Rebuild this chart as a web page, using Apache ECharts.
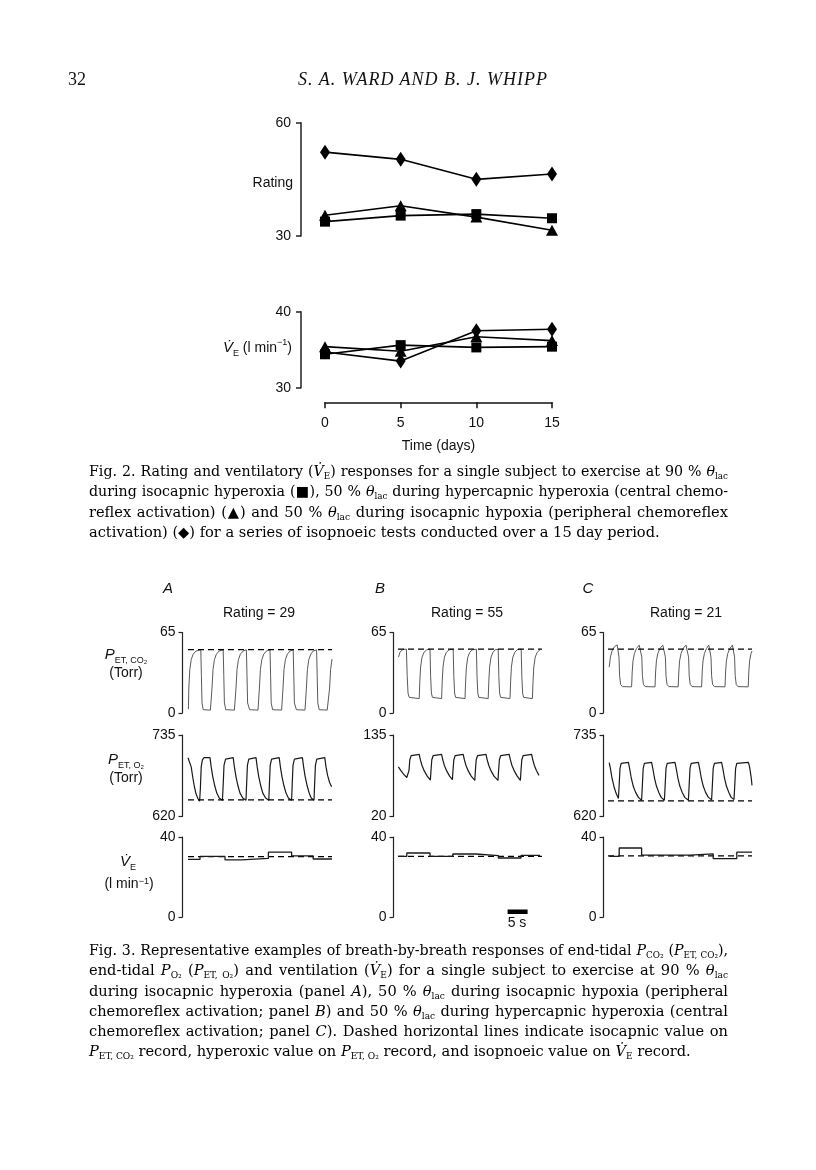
<!DOCTYPE html>
<html><head><meta charset="utf-8">
<script src="https://cdn.jsdelivr.net/npm/echarts@6/dist/echarts.min.js"></script>
<style>
html,body{margin:0;padding:0;background:#fff;}
#chart{position:absolute;left:0;top:0;width:816px;height:1170px;}
.hdr{position:absolute;top:69px;line-height:20px;font-family:"Liberation Serif","Times New Roman",serif;font-size:18px;color:#111;white-space:nowrap;}
.cap{position:absolute;left:89px;width:639px;font-family:"DejaVu Serif",serif;font-size:14.6px;line-height:20.3px;color:#000;}
.cap div{text-align:justify;text-align-last:justify;white-space:normal;}
.cap div.last{text-align-last:left;}
.cap sub{font-size:0.62em;vertical-align:-0.3em;line-height:0;}
</style></head>
<body>
<div id="chart"></div>
<div class="hdr" style="left:68px;">32</div>
<div class="hdr" style="left:298px;font-style:italic;letter-spacing:1px;">S. A. WARD AND B. J. WHIPP</div>
<div class="cap" style="top:461px;">
<div>Fig. 2. Rating and ventilatory (<i>V̇</i><sub>E</sub>) responses for a single subject to exercise at 90 % <i>θ</i><sub>lac</sub></div>
<div>during isocapnic hyperoxia (■), 50 % <i>θ</i><sub>lac</sub> during hypercapnic hyperoxia (central chemo-</div>
<div>reflex activation) (▲) and 50 % <i>θ</i><sub>lac</sub> during isocapnic hypoxia (peripheral chemoreflex</div>
<div class="last">activation) (◆) for a series of isopnoeic tests conducted over a 15 day period.</div>
</div>
<div class="cap" style="top:940px;">
<div>Fig. 3. Representative examples of breath-by-breath responses of end-tidal <i>P</i><sub>CO₂</sub> (<i>P</i><sub>ET, CO₂</sub>),</div>
<div>end-tidal <i>P</i><sub>O₂</sub> (<i>P</i><sub>ET, O₂</sub>) and ventilation (<i>V̇</i><sub>E</sub>) for a single subject to exercise at 90 % <i>θ</i><sub>lac</sub></div>
<div>during isocapnic hyperoxia (panel <i>A</i>), 50 % <i>θ</i><sub>lac</sub> during isocapnic hypoxia (peripheral</div>
<div>chemoreflex activation; panel <i>B</i>) and 50 % <i>θ</i><sub>lac</sub> during hypercapnic hyperoxia (central</div>
<div>chemoreflex activation; panel <i>C</i>). Dashed horizontal lines indicate isocapnic value on</div>
<div class="last"><i>P</i><sub>ET, CO₂</sub> record, hyperoxic value on <i>P</i><sub>ET, O₂</sub> record, and isopnoeic value on <i>V̇</i><sub>E</sub> record.</div>
</div>
<script>
// ---------------- Fig. 2 data ----------------
const days = [0, 5, 10, 15];
const ratingSquare   = [33.8, 35.4, 35.8, 34.7];
const ratingTriangle = [35.5, 38.0, 35.0, 31.5];
const ratingDiamond  = [52.2, 50.3, 45.0, 46.4];
const veSquare   = [34.4, 35.6, 35.3, 35.4];
const veTriangle = [35.4, 34.8, 36.7, 36.2];
const veDiamond  = [34.7, 33.5, 37.5, 37.7];
const ratingTicks = [30, 60];
const ve2Ticks = [30, 40];
const dayTicks = [0, 5, 10, 15];

// ---------------- Fig. 3 data (time in s) ----------------
const panelNames = ['A', 'B', 'C'];
const panelRatings = ['Rating = 29', 'Rating = 55', 'Rating = 21'];
const co2Ticks = [0, 65];
const o2Ticks = [[620, 735], [20, 135], [620, 735]];
const ve3Ticks = [0, 40];
const timeRange = [0, 36];

const co2A = [[0.1,3],[0.2,20],[0.45,35],[0.8,43],[1.3,47.5],[2.0,50],[3.2,51],[3.35,30],[3.5,8],[3.8,2.5],[5.6,2.2],
 [5.9,3],[6.0,20],[6.25,35],[6.6,43],[7.1,47.5],[7.8,50],[8.8,51],[8.95,30],[9.1,8],[9.45,2.5],[11.6,2.2],
 [11.9,3],[12.0,20],[12.25,35],[12.6,43],[13.1,47.5],[13.8,50],[14.6,51],[14.75,30],[14.9,8],[15.4,2.5],[17.5,2.2],
 [17.75,3],[17.85,20],[18.1,35],[18.45,43],[18.95,47.5],[19.6,50],[20.5,51],[20.65,30],[20.8,8],[21.15,2.5],[23.4,2.2],
 [23.65,3],[23.75,20],[24.0,35],[24.35,43],[24.85,47.5],[25.5,50],[26.3,51],[26.45,30],[26.6,8],[27.1,2.5],[29.25,2.2],
 [29.5,3],[29.6,20],[29.85,35],[30.2,43],[30.7,47.5],[31.3,50],[32.15,51],[32.3,30],[32.45,8],[32.8,2.5],[34.8,2.2],
 [35.3,3],[35.4,20],[35.65,35],[36.0,43.5]];
const o2A = [[0,703],[0.5,703],[0.8,690],[1.2,675],[1.6,662],[2.0,652],[2.5,645],[2.9,641.5],[3.1,660],[3.3,690],[3.6,700],[4.0,703],
 [5.5,703],[5.8,690],[6.2,676],[6.7,663],[7.2,653],[7.8,646],[8.6,643],[8.8,665],[9.0,692],[9.4,701],[9.8,703],
 [11.3,703],[11.6,690],[12.0,676],[12.5,663],[13.0,653],[13.7,646],[14.5,643],[14.65,665],[14.85,692],[15.2,701],[15.5,703],
 [17.0,703],[17.3,690],[17.7,676],[18.2,663],[18.7,653],[19.4,646],[20.2,643],[20.35,665],[20.55,692],[20.9,701],[21.3,703],
 [22.8,703],[23.1,690],[23.5,676],[24.0,663],[24.5,653],[25.1,646],[25.9,643],[26.05,665],[26.25,692],[26.6,701],[27.0,703],
 [28.6,703],[28.9,690],[29.3,676],[29.8,663],[30.3,653],[30.8,646],[31.5,643],[31.65,665],[31.85,692],[32.2,701],[32.6,703],
 [34.2,703],[34.5,690],[34.9,678],[35.4,668],[35.9,662]];
const veA = [[0,28.8],[3.0,30.3],[9.25,28.6],[13.4,29.3],[20.1,32.4],[25.9,30.6],[31.3,29.0],[36,29.0]];

const co2B = [[0.1,45],[0.5,49],[1.2,51.3],[2.1,51.5],[2.3,30],[2.5,16],[2.8,12.5],[3.1,11.6],[5.3,11.5],
 [5.45,25],[5.65,37],[6.0,45],[6.5,49],[7.2,51],[8.0,51.5],[8.15,30],[8.35,16],[8.6,12.5],[8.9,11.6],[10.9,11.5],
 [11.05,25],[11.25,37],[11.6,45],[12.1,49],[12.8,51],[13.8,51.5],[13.95,30],[14.15,16],[14.4,12.5],[14.7,11.6],[16.75,11.5],
 [16.9,25],[17.1,37],[17.45,45],[17.95,49],[18.6,51],[19.6,51.5],[19.75,30],[19.95,16],[20.2,12.5],[20.5,11.6],[22.55,11.5],
 [22.7,25],[22.9,37],[23.25,45],[23.75,49],[24.3,51],[25.05,51.5],[25.2,30],[25.4,16],[25.65,12.5],[25.95,11.6],[28.0,11.5],
 [28.15,25],[28.35,37],[28.7,45],[29.2,49],[29.8,51],[30.8,51.5],[30.95,30],[31.15,16],[31.4,12.5],[31.7,11.6],[33.6,11.5],
 [33.75,25],[33.95,37],[34.3,45],[34.8,49],[35.5,51]];
const o2B = [[0.1,90],[0.8,84],[1.5,79],[2.2,75],[2.6,72.5],[2.75,85],[2.95,100],[3.3,106],[3.8,107.6],
 [5.3,107.6],[5.6,100],[6.0,92],[6.6,84],[7.3,77],[8.1,71.5],[8.25,85],[8.45,100],[8.8,106],[9.25,107.6],
 [10.9,107.6],[11.2,100],[11.6,92],[12.2,84],[12.9,77],[13.6,72],[13.75,85],[13.95,100],[14.3,106],[14.7,107.6],
 [16.3,107.6],[16.6,100],[17.0,92],[17.6,84],[18.3,77],[19.2,71],[19.35,85],[19.55,100],[19.9,106],[20.3,107.6],
 [22.0,107.6],[22.3,100],[22.7,92],[23.3,84],[24.0,77],[25.0,71],[25.15,85],[25.35,100],[25.7,106],[26.2,107.6],
 [27.8,107.6],[28.1,100],[28.5,92],[29.1,84],[29.8,77],[30.6,71],[30.75,85],[30.95,100],[31.3,106],[31.75,107.6],
 [33.4,107.6],[33.7,100],[34.1,92],[34.6,85],[35.25,78]];
const veB = [[0.1,30.3],[2.2,32.0],[8.0,30.3],[13.7,31.5],[19.5,30.7],[25.1,29.5],[30.75,30.8],[35.5,30.8]];

const co2C = [[0.3,37],[0.6,45],[1.0,50],[1.6,53.5],[2.3,55],[2.6,55.5],[2.75,45],[2.9,30],[3.15,23],[3.6,21.2],[5.9,21],
 [6.05,33],[6.25,42],[6.6,48],[7.1,52],[7.8,54.8],[8.3,55.5],[8.45,45],[8.6,30],[8.85,23],[9.3,21.2],[11.75,21],
 [11.9,33],[12.1,42],[12.45,48],[12.95,52],[13.7,54.8],[14.2,55.5],[14.35,45],[14.5,30],[14.75,23],[15.2,21.2],[17.55,21],
 [17.7,33],[17.9,42],[18.25,48],[18.75,52],[19.5,54.8],[20.0,55.5],[20.15,45],[20.3,30],[20.55,23],[21.0,21.2],[23.4,21],
 [23.55,33],[23.75,42],[24.1,48],[24.6,52],[25.2,54.8],[25.6,55.5],[25.75,45],[25.9,30],[26.15,23],[26.6,21.2],[29.25,21],
 [29.4,33],[29.6,42],[29.95,48],[30.45,52],[31.1,54.8],[31.5,55.5],[31.65,45],[31.8,30],[32.05,23],[32.5,21.2],[35.05,21],
 [35.2,33],[35.4,42],[35.75,48],[36.0,50]];
const o2C = [[0.3,696],[0.6,688],[1.0,674],[1.5,662],[2.0,653],[2.6,645.5],[2.8,665],[3.0,688],[3.3,695],[3.5,696.3],
 [5.1,696.3],[5.4,688],[5.8,675],[6.3,663],[6.9,654],[7.6,647],[8.4,643],[8.6,665],[8.8,688],[9.1,695],[9.3,696.3],
 [10.9,696.3],[11.2,688],[11.6,675],[12.1,663],[12.7,654],[13.3,647],[14.1,643],[14.3,665],[14.5,688],[14.8,695],[15.0,696.3],
 [16.75,696.3],[17.05,688],[17.45,675],[17.95,663],[18.55,654],[19.2,647],[20.1,643],[20.3,665],[20.5,688],[20.8,695],[21.0,696.3],
 [22.6,696.3],[22.9,688],[23.3,675],[23.8,663],[24.4,654],[25.1,647],[25.9,643.5],[26.1,665],[26.3,688],[26.6,695],[26.8,696.3],
 [28.4,696.3],[28.7,688],[29.1,675],[29.6,663],[30.2,654],[30.8,647],[31.5,644],[31.7,665],[31.9,688],[32.2,695],[32.4,696.3],
 [35.1,696.3],[35.4,690],[35.8,675],[36.0,664]];
const veC = [[0.3,30.3],[2.8,34.5],[8.4,30.9],[20.5,31.6],[26.3,29.2],[32.2,32.4],[36,32.4]];

const dashCO2 = [51.2, 51.5, 51.5];
const dashO2 = [643.5, null, 642];
const dashVE = [30.2, 30.3, 30.6];
const scaleBarTimes = [27.4, 32.4];   // 5 s bar in panel B
const scaleBarLevel = 2.6;

// ---------------- layout ----------------
const SANS = '"Liberation Sans", Arial, Helvetica, sans-serif';
const INK = '#111';
const co2Data = [co2A, co2B, co2C];
const o2Data = [o2A, o2B, o2C];
const veData = [veA, veB, veC];
const panelLeft = [188, 398, 608];
const panelAxisX = [182.5, 393.5, 603.5];
const panelW = 144;
const rowTop = [632.5, 735, 837];
const rowH = [80.3, 81.5, 80];

const grids = [], xAxes = [], yAxes = [], series = [];

function yAx(gi, min, max, ticks, offset, lw, tickLen, margin) {
  return { gridIndex: gi, type: 'value', min, max, position: 'left', offset,
    axisLine: { show: true, onZero: false, lineStyle: { color: '#222', width: lw } },
    axisTick: { show: true, length: tickLen, customValues: ticks, lineStyle: { color: '#222', width: lw } },
    axisLabel: { customValues: ticks, fontFamily: SANS, fontSize: 14, color: INK, margin },
    splitLine: { show: false } };
}
function hiddenX(gi, min, max) {
  return { gridIndex: gi, type: 'value', min, max, show: false };
}

// Fig 2 grids
grids.push({ left: 325, top: 122.7, width: 227, height: 113.3, containLabel: false, outerBoundsMode: 'none' });
grids.push({ left: 325, top: 311.7, width: 227, height: 76, containLabel: false, outerBoundsMode: 'none' });
xAxes.push(hiddenX(0, 0, 15));
xAxes.push({ gridIndex: 1, type: 'value', min: 0, max: 15, interval: 5, position: 'bottom', offset: 14.6,
  axisLine: { show: true, onZero: false, lineStyle: { color: '#111', width: 1.5 } },
  axisTick: { show: true, length: 6, customValues: dayTicks, lineStyle: { color: '#111', width: 1.5 } },
  axisLabel: { customValues: dayTicks, fontFamily: SANS, fontSize: 14, color: INK, margin: 14 },
  splitLine: { show: false },
  name: 'Time (days)', nameLocation: 'middle', nameGap: 37,
  nameTextStyle: { fontFamily: SANS, fontSize: 14, color: INK } });
yAxes.push(yAx(0, 30, 60, ratingTicks, 24, 1.5, 5, 10));
yAxes.push(yAx(1, 30, 40, ve2Ticks, 24, 1.5, 5, 10));

function fig2Series(gi, vals, symbol, size) {
  return { type: 'line', xAxisIndex: gi, yAxisIndex: gi, data: days.map((d, i) => [d, vals[i]]),
    symbol, symbolSize: size, showSymbol: true, silent: true,
    lineStyle: { color: '#000', width: 1.6 }, itemStyle: { color: '#000', borderWidth: 0 } };
}
series.push(fig2Series(0, ratingSquare, 'rect', 10));
series.push(fig2Series(0, ratingTriangle, 'triangle', [12, 11]));
series.push(fig2Series(0, ratingDiamond, 'diamond', [10, 15]));
series.push(fig2Series(1, veSquare, 'rect', 10));
series.push(fig2Series(1, veTriangle, 'triangle', [12, 11]));
series.push(fig2Series(1, veDiamond, 'diamond', [10, 15]));

// Fig 3 grids
function trace(gi, data, color, width, extra) {
  return Object.assign({ type: 'line', xAxisIndex: gi, yAxisIndex: gi, data, symbol: 'none', showSymbol: false,
    silent: true, lineStyle: { color, width } }, extra || {});
}
for (let p = 0; p < 3; p++) {
  const off = panelLeft[p] - panelAxisX[p];
  const ranges = [[0, 65, co2Ticks], [o2Ticks[p][0], o2Ticks[p][1], o2Ticks[p]], [0, 40, ve3Ticks]];
  for (let r = 0; r < 3; r++) {
    const gi = grids.length;
    grids.push({ left: panelLeft[p], top: rowTop[r], width: panelW, height: rowH[r], containLabel: false, outerBoundsMode: 'none' });
    xAxes.push(hiddenX(gi, timeRange[0], timeRange[1]));
    yAxes.push(yAx(gi, ranges[r][0], ranges[r][1], ranges[r][2], off, 1.2, 4, 7));
    const dashStyle = { color: '#000', width: 1.3, type: [6, 4] };
    if (r === 0) {
      series.push(trace(gi, co2Data[p], '#5a5a5a', 1));
      series.push(trace(gi, [[timeRange[0], dashCO2[p]], [timeRange[1], dashCO2[p]]], '#000', 1.3, { lineStyle: dashStyle }));
    } else if (r === 1) {
      series.push(trace(gi, o2Data[p], '#1a1a1a', 1.2));
      if (dashO2[p] !== null)
        series.push(trace(gi, [[timeRange[0], dashO2[p]], [timeRange[1], dashO2[p]]], '#000', 1.3, { lineStyle: dashStyle }));
    } else {
      series.push(trace(gi, [[timeRange[0], dashVE[p]], [timeRange[1], dashVE[p]]], '#000', 1.3, { lineStyle: dashStyle }));
      series.push(trace(gi, veData[p], '#1a1a1a', 1.3, { step: 'end' }));
      if (p === 1)
        series.push(trace(gi, scaleBarTimes.map(t => [t, scaleBarLevel]), '#000', 4.5));
    }
  }
}

// ---------------- text ----------------
function txt(x, y, text, opt) {
  return { type: 'text', x, y, silent: true,
    style: Object.assign({ text, fontFamily: SANS, fontSize: 14, fill: INK, align: 'center', verticalAlign: 'middle' }, opt || {}) };
}
const richBase = {
  p: { fontFamily: SANS, fontSize: 15, fontStyle: 'italic', fill: INK, lineHeight: 20 },
  n: { fontFamily: SANS, fontSize: 14, fill: INK, lineHeight: 20 },
  s: { fontFamily: SANS, fontSize: 9, fill: INK, lineHeight: 12, verticalAlign: 'bottom' },
  u: { fontFamily: SANS, fontSize: 9, fill: INK, lineHeight: 12, verticalAlign: 'top' }
};
const graphic = [
  txt(293, 183, 'Rating', { align: 'right' }),
  txt(292, 348, '{p|V̇}{s|E}{n| (l min}{u|−1}{n|)}', { align: 'right', rich: richBase }),
  txt(517, 923, '5 s', { fontSize: 14 }),
  txt(126, 655, '{p|P}{s|ET, CO₂}', { rich: richBase }),
  txt(126, 673, '(Torr)'),
  txt(126, 760, '{p|P}{s|ET, O₂}', { rich: richBase }),
  txt(126, 778, '(Torr)'),
  txt(128, 862, '{p|V̇}{s|E}', { rich: richBase }),
  txt(129, 884, '(l min{u|−1})', { rich: richBase })
];
const panelLabelX = [168, 380, 588];
const ratingX = [259, 467, 686];
for (let p = 0; p < 3; p++) {
  graphic.push(txt(panelLabelX[p], 589, panelNames[p], { fontStyle: 'italic', fontSize: 15 }));
  graphic.push(txt(ratingX[p], 613, panelRatings[p]));
}

const chart = echarts.init(document.getElementById('chart'), null, { renderer: 'canvas' });
chart.setOption({
  animation: false,
  backgroundColor: '#fff',
  grid: grids, xAxis: xAxes, yAxis: yAxes, series, graphic
});

// fit caption lines to the justified width
document.querySelectorAll('.cap div').forEach(el => {
  let fs = 14.6;
  while (el.offsetHeight > 26 && fs > 9) { fs -= 0.2; el.style.fontSize = fs + 'px'; }
});
</script>
</body></html>
